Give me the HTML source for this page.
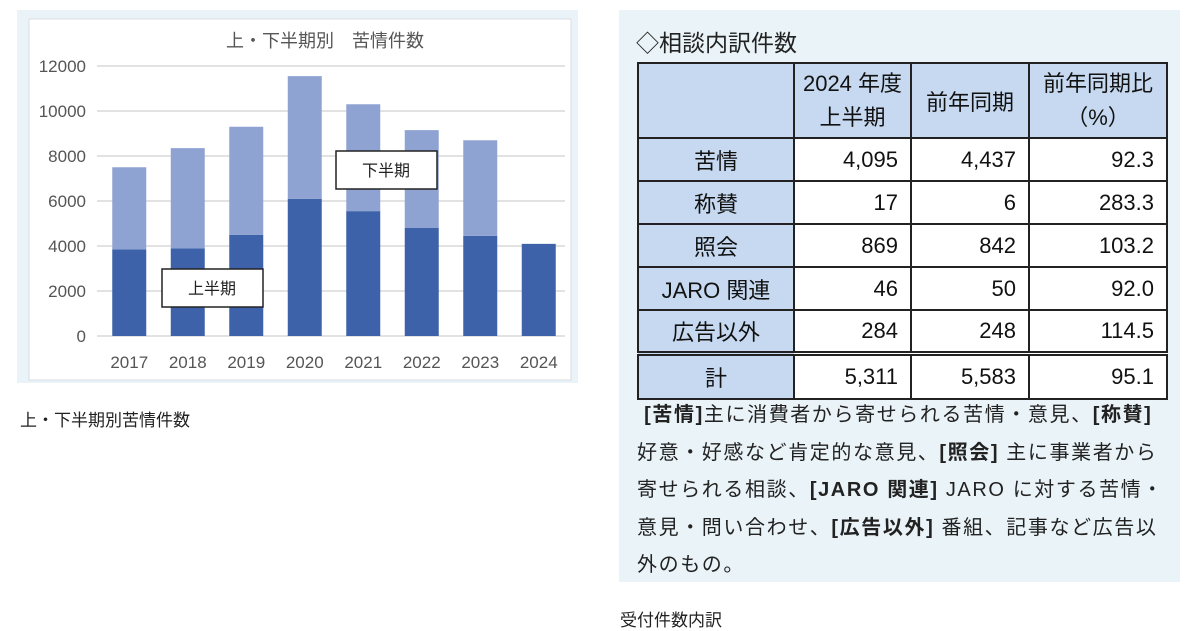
<!DOCTYPE html>
<html><head><meta charset="utf-8"><style>
body{margin:0;width:1200px;height:630px;background:#fff;font-family:"Liberation Sans","Noto Sans CJK JP",sans-serif;position:relative;overflow:hidden}
.abs{position:absolute}
table{border-collapse:collapse;position:absolute;left:637px;top:62px;font-size:22px;color:#111;table-layout:fixed;width:529px}
td{border:2px solid #222;height:39px;padding:0 12px;text-align:right;background:#fff;white-space:nowrap;box-sizing:border-box}
td.h{background:#c6d9f0;text-align:center}
tr.tot td{border-top:5px double #222}
.note{position:absolute;left:637px;top:397px;width:545px;font-size:20px;letter-spacing:1.6px;line-height:37.5px;color:#222;white-space:nowrap}
b{font-weight:bold}
</style></head><body>
<div class="abs" style="left:17px;top:10px;width:561px;height:373px;background:#eaf4f8"></div>
<svg class="abs" style="left:0;top:0" width="600" height="400" id="chart"></svg>
<div class="abs" style="left:20px;top:406px;font-size:17px;color:#222">上・下半期別苦情件数</div>

<div class="abs" style="left:619px;top:10px;width:561px;height:572px;background:#eaf4f8"></div>
<div class="abs" style="left:636px;top:24px;font-size:23px;color:#222">◇相談内訳件数</div>
<table>
<colgroup><col style="width:156px"><col style="width:117px"><col style="width:118px"><col style="width:138px"></colgroup>
<tr><td class="h" style="height:75px"></td><td class="h" style="line-height:34px;padding:0">2024 年度<br>上半期</td><td class="h" style="padding:0">前年同期</td><td class="h" style="line-height:34px;padding:0">前年同期比<br>（%）</td></tr>
<tr><td class="h" style="height:43px">苦情</td><td>4,095</td><td>4,437</td><td>92.3</td></tr>
<tr><td class="h" style="height:43px">称賛</td><td>17</td><td>6</td><td>283.3</td></tr>
<tr><td class="h" style="height:43px">照会</td><td>869</td><td>842</td><td>103.2</td></tr>
<tr><td class="h" style="height:43px">JARO 関連</td><td>46</td><td>50</td><td>92.0</td></tr>
<tr><td class="h" style="height:43px">広告以外</td><td>284</td><td>248</td><td>114.5</td></tr>
<tr class="tot"><td class="h" style="height:46px">計</td><td>5,311</td><td>5,583</td><td>95.1</td></tr>
</table>
<div class="note">&nbsp;<b>[苦情]</b>主に消費者から寄せられる苦情・意見、<b>[称賛]</b><br>好意・好感など肯定的な意見、<b>[照会]</b> 主に事業者から<br>寄せられる相談、<b>[JARO 関連]</b> JARO に対する苦情・<br>意見・問い合わせ、<b>[広告以外]</b> 番組、記事など広告以<br>外のもの。</div>
<div class="abs" style="left:620px;top:606px;font-size:17px;color:#222">受付件数内訳</div>
<script>
const years=["2017","2018","2019","2020","2021","2022","2023","2024"];
const firstHalf=[3850,3900,4500,6100,5550,4800,4450,4095];
const secondHalf=[3650,4450,4800,5450,4750,4350,4250,0];
const yTicks=[0,2000,4000,6000,8000,10000,12000];
const svg=document.getElementById('chart');
const NS="http://www.w3.org/2000/svg";
const x0=97,x1=565,yZero=336,yTop=66,yMax=12000;
const y=v=>yZero-(v/yMax)*(yZero-yTop);
const step=(x1-x0)/years.length;
const xc=i=>x0+step*(i+0.5)+3;
function mk(t,a){const e=document.createElementNS(NS,t);for(const k in a)e.setAttribute(k,a[k]);svg.appendChild(e);return e;}
let bg=mk('rect',{x:29,y:19,width:542,height:361,fill:'#fff',stroke:'#d8dde2'});


let tt=mk('text',{x:325,y:47,'font-size':18,fill:'#555','text-anchor':'middle'});tt.textContent='上・下半期別　苦情件数';


yTicks.forEach(v=>{
 let l=mk('line',{x1:x0,x2:x1,y1:y(v),y2:y(v),stroke:'#d9d9d9','stroke-width':1.5});
 
 
 let t=mk('text',{x:86,y:y(v)+6,'font-size':17,fill:'#555','text-anchor':'end'});t.textContent=v;
 
 
});
const bw=34;
years.forEach((yr,i)=>{
 let a=mk('rect',{x:xc(i)-bw/2,y:y(firstHalf[i]),width:bw,height:yZero-y(firstHalf[i]),fill:'#3d62a9'});
 
 
 if(secondHalf[i]>0){
  let b=mk('rect',{x:xc(i)-bw/2,y:y(firstHalf[i]+secondHalf[i]),width:bw,height:y(firstHalf[i])-y(firstHalf[i]+secondHalf[i]),fill:'#8fa3d2'});
  
  
 }
 let t=mk('text',{x:xc(i),y:368,'font-size':17,fill:'#555','text-anchor':'middle'});t.textContent=yr;
 
 
});
[[162,269,'上半期'],[336,151,'下半期']].forEach(([x,yy,s])=>{
 let r=mk('rect',{x:x,y:yy,width:101,height:38,fill:'#fff',stroke:'#222','stroke-width':1.5});
 
 
 let t=mk('text',{x:x+50,y:yy+25,'font-size':16,fill:'#222','text-anchor':'middle'});t.textContent=s;
 
 
});
</script>
</body></html>
